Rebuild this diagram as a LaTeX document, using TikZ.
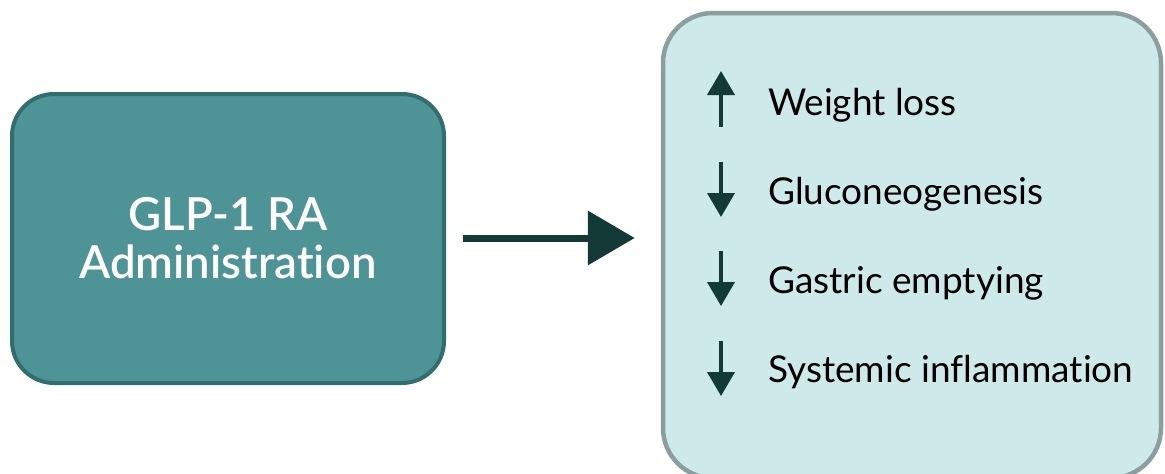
\documentclass[tikz,border=0pt]{standalone}
\usepackage{fontspec}
\setmainfont{Lato}[Ligatures={NoCommon}]
\newfontfamily\titlefont{Lato Semibold}[Ligatures={NoCommon}]
\usetikzlibrary{arrows.meta}
\definecolor{leftfill}{HTML}{4E9496}
\definecolor{leftdraw}{HTML}{326E6F}
\definecolor{rightfill}{HTML}{CDE9EA}
\definecolor{rightdraw}{HTML}{8C9FA0}
\definecolor{arrowcol}{HTML}{143A38}
\tikzset{
  srcbox/.style={draw=leftdraw, fill=leftfill, line width=4pt, rounded corners=42pt,
    minimum width=432pt, minimum height=289pt, inner sep=0pt, align=center,
    text=white, font=\titlefont\fontsize{45.5pt}{48pt}\selectfont},
  effbox/.style={draw=rightdraw, fill=rightfill, line width=4.5pt, rounded corners=50pt,
    minimum width=498pt, minimum height=465pt, inner sep=0pt},
  itemtext/.style={anchor=base west, inner sep=0pt, text=black, font=\fontsize{37pt}{42pt}\selectfont},
  mainarrow/.style={draw=arrowcol, line width=7pt, -{Triangle[length=47pt,width=53pt]}},
  smallarrow/.style={draw=arrowcol, line width=4pt, -{Triangle[length=24pt,width=27pt]}}
}
\begin{document}
\begin{tikzpicture}[x=1pt,y=-1pt]
\useasboundingbox (0,0) rectangle (1165,474);
\node[effbox] (eff) at (912,245.5) {};
\node[srcbox] (src) at (228,238.5) {GLP-1 RA\\Administration};
\draw[mainarrow, shorten <=17pt, shorten >=26pt] (src.east |- 0,238) -- (eff.west |- 0,238);
% items
\node[itemtext] (t1) at (768,115) {Weight loss};
\node[itemtext] (t2) at (768,204) {Gluconeogenesis};
\node[itemtext] (t3) at (768,293) {Gastric emptying};
\node[itemtext] (t4) at (768,382) {Systemic inflammation};
\coordinate (a1s) at (721,127); \coordinate (a1e) at (721,71);
\coordinate (a2s) at (721,162); \coordinate (a2e) at (721,217);
\coordinate (a3s) at (721,251); \coordinate (a3e) at (721,306);
\coordinate (a4s) at (721,341); \coordinate (a4e) at (721,396);
\draw[smallarrow] (a1s) -- (a1e);
\draw[smallarrow] (a2s) -- (a2e);
\draw[smallarrow] (a3s) -- (a3e);
\draw[smallarrow] (a4s) -- (a4e);
\end{tikzpicture}
\end{document}
